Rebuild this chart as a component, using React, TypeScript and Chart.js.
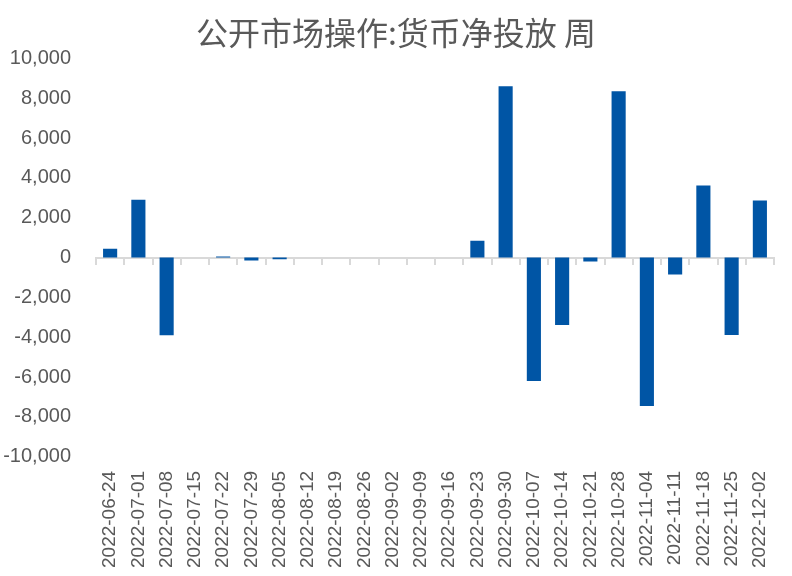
import { useEffect, useRef } from "react";
import { Chart, registerables } from "chart.js";

Chart.register(...registerables);

const title = "公开市场操作:货币净投放 周";

const weeks = [
  "2022-06-24", "2022-07-01", "2022-07-08", "2022-07-15", "2022-07-22", "2022-07-29",
  "2022-08-05", "2022-08-12", "2022-08-19", "2022-08-26", "2022-09-02", "2022-09-09",
  "2022-09-16", "2022-09-23", "2022-09-30", "2022-10-07", "2022-10-14", "2022-10-21",
  "2022-10-28", "2022-11-04", "2022-11-11", "2022-11-18", "2022-11-25", "2022-12-02",
];

const netInjection = [
  450, 2900, -3900, 0, 50, -150,
  -80, 0, 0, 0, 0, 0,
  0, 850, 8600, -6200, -3380, -200,
  8350, -7450, -850, 3620, -3880, 2870,
];

const yMin = -10000;
const yMax = 10000;
const yStep = 2000;

const textColor = "#595959";
const barColor = "#0055A5";
const axisColor = "#D9D9D9";
const latin = "'Liberation Sans', sans-serif";

export default function App() {
  const canvasRef = useRef<HTMLCanvasElement>(null);

  useEffect(() => {
    if (!canvasRef.current) return;
    const ctx = canvasRef.current.getContext("2d");
    if (!ctx) return;

    const chart = new Chart(ctx, {
      type: "bar",
      data: {
        labels: weeks,
        datasets: [
          {
            data: netInjection,
            backgroundColor: barColor,
            borderWidth: 0,
            categoryPercentage: 1,
            barPercentage: 0.5,
          },
        ],
      },
      options: {
        animation: false,
        responsive: true,
        maintainAspectRatio: false,
        layout: { padding: { left: 0, right: 0, top: 0, bottom: 2 } },
        plugins: {
          legend: { display: false },
          tooltip: { enabled: false },
          title: {
            display: true,
            text: title,
            color: textColor,
            font: { family: "'Noto Sans CJK SC', sans-serif", size: 32, weight: "normal" },
            padding: { top: 14, bottom: 6 },
          },
        },
        scales: {
          x: {
            type: "category",
            grid: { display: false },
            border: { display: false },
            ticks: {
              color: textColor,
              font: { family: latin, size: 19 },
              minRotation: 90,
              maxRotation: 90,
              autoSkip: false,
              padding: 6,
            },
          },
          x2: {
            type: "category",
            position: { y: 0 },
            offset: true,
            grid: {
              offset: true,
              drawOnChartArea: false,
              drawTicks: true,
              tickLength: 6,
              color: axisColor,
              lineWidth: 2,
            },
            border: { display: true, color: axisColor, width: 2 },
            ticks: { display: false },
          },
          y: {
            min: yMin,
            max: yMax,
            grid: { display: false, drawTicks: false },
            border: { display: false },
            afterFit: (scale) => {
              scale.width = 96;
            },
            ticks: {
              stepSize: yStep,
              color: textColor,
              font: { family: latin, size: 20 },
              padding: 25,
              callback: (v) => Number(v).toLocaleString("en-US"),
            },
          },
          // empty right-hand gutter so the title stays centred on the page
          yRight: {
            position: "right",
            min: yMin,
            max: yMax,
            grid: { display: false, drawTicks: false },
            border: { display: false },
            ticks: { display: false },
            afterFit: (scale) => {
              scale.width = 18;
            },
          },
        },
      },
    });

    return () => {
      chart.destroy();
    };
  }, []);

  return (
    <div style={{ position: "absolute", left: 0, top: 0, width: 792, height: 576, background: "#fff" }}>
      <canvas ref={canvasRef} />
    </div>
  );
}
